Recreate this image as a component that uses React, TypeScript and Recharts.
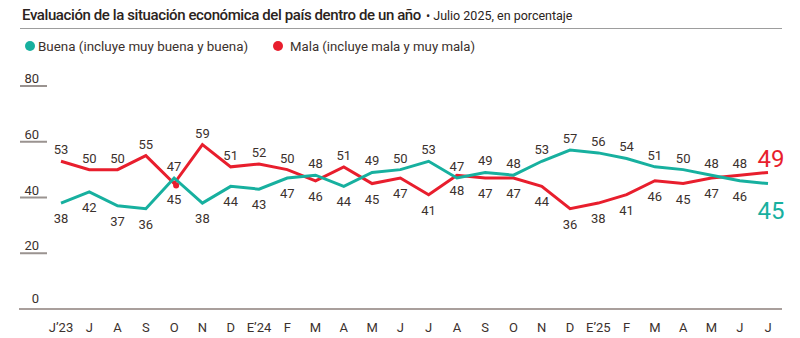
import React from 'react';
import { LineChart, Line, XAxis, YAxis, LabelList } from 'recharts';

const months = ["J’23", "J", "A", "S", "O", "N", "D", "E’24", "F", "M", "A", "M", "J", "J", "A", "S", "O", "N", "D", "E’25", "F", "M", "A", "M", "J", "J"];
const buena = [38, 42, 37, 36, 47, 38, 44, 43, 47, 48, 44, 49, 50, 53, 47, 49, 48, 53, 57, 56, 54, 51, 50, 48, 46, 45];
const mala = [53, 50, 50, 55, 45, 59, 51, 52, 50, 46, 51, 45, 47, 41, 48, 47, 47, 44, 36, 38, 41, 46, 45, 47, 48, 49];
const yTicks = [0, 20, 40, 60, 80];

const TEAL = '#17b09f';
const RED = '#e81e2d';
const TEXT = '#3b312d';
const FONT = 'Roboto, "Noto Sans", sans-serif';

const data = months.map((m, i) => ({ m, buena: buena[i], mala: mala[i] }));

const buenaAbove = (i: number) => buena[i] + 1 >= mala[i];

const makeLabel = (key: 'buena' | 'mala', color: string) => (props: any) => {
  const { x, y, value, index } = props;
  const above = key === 'buena' ? buenaAbove(index) : !buenaAbove(index);
  const last = index === months.length - 1;
  if (last) {
    return (
      <text x={x + 3} y={above ? y - 5 : y + 35} textAnchor="middle" fill={color} fontSize={24} fontFamily={FONT}>
        {value}
      </text>
    );
  }
  return (
    <text x={x} y={above ? y - 7 : y + 20} textAnchor="middle" fill={TEXT} fontSize={13} fontFamily={FONT}>
      {value}
    </text>
  );
};

const renderYTick = (props: any) => {
  const { x, y, payload } = props;
  const v = Number(payload.value);
  return (
    <g key={`yt${v}`}>
      {v !== 0 && (
        <rect x={x - 26} y={y - 1} width={27} height={2} fill="#9a9390" />
      )}
      <text x={x - 7} y={v === 0 ? y - 6 : y - 3} textAnchor="end" fill={TEXT} fontSize={13} fontFamily={FONT}>
        {v}
      </text>
    </g>
  );
};

const renderXTick = (props: any) => {
  const { x, y, payload, index } = props;
  return (
    <text key={`xt${index}`} x={x} y={y + 23} textAnchor="middle" fill={TEXT} fontSize={13} fontFamily={FONT}>
      {payload.value}
    </text>
  );
};

const RedDot = (props: any) => {
  const { cx, cy, index } = props;
  if (index === 4) return <circle key={`d${index}`} cx={cx + 2} cy={cy + 2} r={3} fill={RED} />;
  return <g key={`d${index}`} />;
};

export default function App() {
  return (
    <div style={{ position: 'absolute', left: 0, top: 0, width: 800, height: 338, background: '#fff' }}>
      <svg width={800} height={60} style={{ position: 'absolute', left: 0, top: 0 }}>
        <text x={22} y={20} fontSize={15} fontWeight={500} letterSpacing={-0.4} fill="#2b2320" fontFamily={FONT}>
          Evaluación de la situación económica del país dentro de un año
          <tspan fontSize={12.5} fontWeight={400} letterSpacing={0} dx={5}>• Julio 2025, en porcentaje</tspan>
        </text>
        <line x1={20} x2={782} y1={28.5} y2={28.5} stroke="#9d9d9d" strokeWidth={1} />
        <circle cx={30} cy={46} r={5} fill={TEAL} />
        <text x={38} y={51} fontSize={13.4} fill={TEXT} fontFamily={FONT}>Buena (incluye muy buena y buena)</text>
        <circle cx={278} cy={46} r={5} fill={RED} />
        <text x={290} y={51} fontSize={13.2} fill={TEXT} fontFamily={FONT}>Mala (incluye mala y muy mala)</text>
      </svg>
      <div style={{ position: 'absolute', left: 0, top: 0 }}>
        <LineChart width={800} height={338} data={data} margin={{ top: 86, right: 18, bottom: 0, left: 19 }}>
          <XAxis
            dataKey="m"
            height={29}
            padding={{ left: 42, right: 14 }}
            axisLine={{ stroke: '#8c7f7b', strokeWidth: 1.5 }}
            tickLine={false}
            tickSize={0}
            tickMargin={0}
            interval={0}
            tick={renderXTick}
          />
          <YAxis
            width={1}
            mirror
            domain={[0, 80]}
            ticks={yTicks}
            interval={0}
            axisLine={false}
            tickLine={false}
            tickSize={27}
            tickMargin={0}
            tick={renderYTick}
          />
          <Line dataKey="mala" stroke={RED} strokeWidth={3} dot={<RedDot />} activeDot={false} isAnimationActive={false} strokeLinejoin="miter">
            <LabelList dataKey="mala" content={makeLabel('mala', RED)} />
          </Line>
          <Line dataKey="buena" stroke={TEAL} strokeWidth={3} dot={false} activeDot={false} isAnimationActive={false} strokeLinejoin="miter">
            <LabelList dataKey="buena" content={makeLabel('buena', TEAL)} />
          </Line>
        </LineChart>
      </div>
    </div>
  );
}
